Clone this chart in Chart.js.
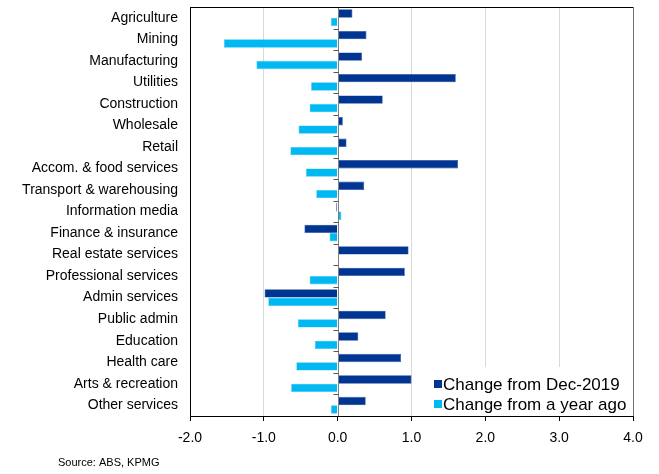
<!DOCTYPE html>
<html>
<head>
<meta charset="utf-8">
<script src="https://cdn.jsdelivr.net/npm/chart.js@4/dist/chart.umd.min.js"></script>
<style>
  html, body { margin: 0; padding: 0; background: #fff; }
  #wrap { width: 659px; height: 474px; position: relative; }
</style>
</head>
<body>
<div id="wrap"><canvas id="c" width="659" height="474"></canvas></div>
<script>
// Industry categories, top to bottom
const industries = [
  'Agriculture', 'Mining', 'Manufacturing', 'Utilities', 'Construction',
  'Wholesale', 'Retail', 'Accom. & food services', 'Transport & warehousing',
  'Information media', 'Finance & insurance', 'Real estate services',
  'Professional services', 'Admin services', 'Public admin', 'Education',
  'Health care', 'Arts & recreation', 'Other services'
];

// Change since December 2019 (%)
const changeFromDec2019 = [
  0.20, 0.39, 0.33, 1.60, 0.61, 0.07, 0.12, 1.63, 0.36, -0.02,
  -0.45, 0.96, 0.91, -0.99, 0.65, 0.28, 0.86, 1.00, 0.38
];

// Change over the year (%)
const changeFromYearAgo = [
  -0.09, -1.54, -1.10, -0.36, -0.38, -0.53, -0.64, -0.43, -0.29, 0.05,
  -0.11, 0.01, -0.38, -0.94, -0.54, -0.31, -0.56, -0.63, -0.09
];

const seriesLabels = ['Change from Dec-2019', 'Change from a year ago'];
const xTicks = { min: -2, max: 4, step: 1 };
const sourceNote = 'Source: ABS, KPMG';

const NAVY = '#003591';
const CYAN = '#00B9F2';
const FONT = "'Liberation Sans', Arial, sans-serif";

// Frame, zero line with category ticks, in-plot legend and source line
const decorations = {
  id: 'decorations',
  afterDatasetsDraw(chart) {
    const { ctx, chartArea: a, scales } = chart;
    const x0 = Math.round(scales.x.getPixelForValue(0)) + 0.5;
    ctx.save();
    // zero line
    ctx.strokeStyle = '#7f7f7f';
    ctx.lineWidth = 1;
    ctx.beginPath();
    ctx.moveTo(x0, a.top);
    ctx.lineTo(x0, a.bottom);
    ctx.stroke();
    // category boundary ticks on the zero line
    const n = industries.length;
    const step = (a.bottom - a.top) / n;
    ctx.strokeStyle = '#555';
    for (let i = 1; i < n; i++) {
      const y = Math.round(a.top + i * step) + 0.5;
      ctx.beginPath();
      ctx.moveTo(x0 - 5, y);
      ctx.lineTo(x0, y);
      ctx.stroke();
    }
    // top and right frame
    ctx.strokeStyle = '#000';
    ctx.beginPath();
    ctx.moveTo(Math.round(a.left) + 0.5, Math.round(a.top) + 0.5);
    ctx.lineTo(Math.round(a.right) + 0.5, Math.round(a.top) + 0.5);
    ctx.stroke();
    ctx.strokeStyle = '#6e6e6e';
    ctx.beginPath();
    ctx.moveTo(Math.round(a.right) + 0.5, a.top);
    ctx.lineTo(Math.round(a.right) + 0.5, a.bottom);
    ctx.stroke();

    // legend inside the plot, bottom right, on a white panel
    ctx.fillStyle = '#fff';
    ctx.fillRect(422, 367, Math.round(a.right) - 422, Math.round(a.bottom) - 367);
    ctx.font = '17px ' + FONT;
    ctx.textBaseline = 'middle';
    ctx.textAlign = 'left';
    const lx = 434, rows = [384, 404];
    chart.data.datasets.forEach((ds, i) => {
      ctx.fillStyle = ds.backgroundColor;
      ctx.fillRect(lx, rows[i] - 4, 8, 8);
      ctx.fillStyle = '#000';
      ctx.fillText(ds.label, lx + 9, rows[i] + 1);
    });

    // source line
    ctx.font = '11px ' + FONT;
    ctx.fillStyle = '#000';
    ctx.fillText(sourceNote, 58, 463);
    ctx.restore();
  }
};

new Chart(document.getElementById('c'), {
  type: 'bar',
  data: {
    labels: industries,
    datasets: [
      { label: seriesLabels[0], data: changeFromDec2019, backgroundColor: NAVY,
        borderColor: '#2a4f9e', borderWidth: 0.6 },
      { label: seriesLabels[1], data: changeFromYearAgo, backgroundColor: CYAN,
        borderColor: '#3ec6f2', borderWidth: 0.6 }
    ]
  },
  options: {
    indexAxis: 'y',
    responsive: false,
    animation: false,
    layout: { padding: { top: 7, right: 26, bottom: 30, left: 0 } },
    datasets: { bar: { categoryPercentage: 0.78, barPercentage: 1.0 } },
    plugins: {
      legend: { display: false },
      tooltip: { enabled: false }
    },
    scales: {
      x: {
        min: xTicks.min,
        max: xTicks.max,
        ticks: {
          stepSize: xTicks.step,
          color: '#000',
          font: { family: FONT, size: 14 },
          padding: 9,
          callback: v => Number(v).toFixed(1)
        },
        grid: {
          color: ctx => (ctx.tick && ctx.tick.value === 0) ? 'rgba(0,0,0,0)' : '#d9d9d9',
          tickColor: '#000',
          tickLength: 5,
          drawOnChartArea: true
        },
        border: { color: '#000', width: 1 },
        afterFit: s => { s.height = 28; }
      },
      y: {
        ticks: {
          color: '#000',
          font: { family: FONT, size: 14 },
          padding: 12,
          autoSkip: false
        },
        grid: { display: false, drawTicks: false },
        border: { color: '#000', width: 1 },
        afterFit: s => { s.width = 190; s.paddingTop = 0; s.paddingBottom = 0; }
      }
    }
  },
  plugins: [decorations]
});
</script>
</body>
</html>
